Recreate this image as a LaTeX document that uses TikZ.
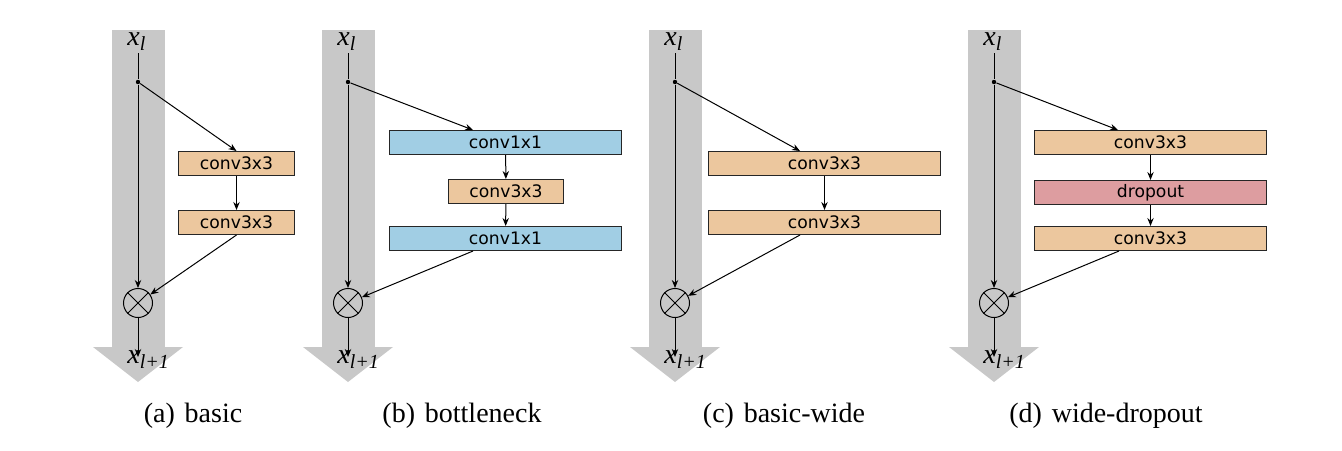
\documentclass[tikz,border=0pt]{standalone}
\usepackage{fontspec}
\setmainfont{Liberation Serif}
\newfontfamily\lblfont{DejaVu Sans}
\usetikzlibrary{arrows.meta,calc}
\definecolor{bandgray}{RGB}{200,200,200}
\definecolor{convor}{RGB}{236,199,158}
\definecolor{convbl}{RGB}{161,206,228}
\definecolor{droprd}{RGB}{221,157,160}
\newcommand{\resband}[1]{%
  \fill[bandgray] ({#1-26.5},30) rectangle ({#1+26.5},347);
  \fill[bandgray] ({#1-45},347) -- ({#1+45},347) -- (#1,382) -- cycle;}
\newcommand{\subtxt}[1]{\raisebox{-0.45ex}{\fontsize{10}{11}\selectfont\itshape #1}}
\newcommand{\xin}{{\itshape x}\subtxt{l}}
\newcommand{\xout}{{\itshape x}\subtxt{l+1}}
\begin{document}
\begin{tikzpicture}[x=0.5pt,y=-0.5pt,
  blk/.style={draw=black!85, line width=0.5pt, inner sep=0pt, minimum height=12pt,
    anchor=north west, font=\lblfont\fontsize{8.6}{10}\selectfont},
  orb/.style={blk, fill=convor},
  blb/.style={blk, fill=convbl},
  rdb/.style={blk, fill=droprd},
  arr/.style={-{Stealth[length=4pt,width=3.2pt]}, line width=0.5pt},
  ln/.style={line width=0.5pt},
  dotn/.style={circle, fill=black, inner sep=0pt, minimum size=2.2pt},
  sumn/.style={circle, draw, line width=0.5pt, minimum size=14.5pt, inner sep=0pt},
  xlab/.style={anchor=base west, inner sep=0pt, font=\fontsize{14}{15}\selectfont},
  captxt/.style={anchor=base, inner sep=0pt, font=\fontsize{14}{16}\selectfont}]
\useasboundingbox (0,0) rectangle (1342,450);

% ---------- (a) basic ----------
\resband{138}
\node[xlab] (a-in) at (127,45) {\xin};
\node[dotn] (a-dot) at (138,82) {};
\node[sumn] (a-sum) at (138,303) {};
\node[orb, minimum width=58pt] (a-c1) at (178,151) {conv3x3};
\node[orb, minimum width=58pt] (a-c2) at (178,210) {conv3x3};
\coordinate (a-end) at (138,357);
\node[xlab] (a-out) at (127,363) {\xout};
\draw[ln] (138,53) -- (a-dot);
\draw[arr] (a-dot) -- (a-sum);
\draw[arr] (a-dot) -- (a-c1.north);
\draw[arr] (a-c1) -- (a-c2);
\draw[arr] (a-c2.south) -- (a-sum);
\draw[ln] (a-sum.north west) -- (a-sum.south east) (a-sum.north east) -- (a-sum.south west);
\draw[arr] (a-sum) -- (a-end);

% ---------- (b) bottleneck ----------
\resband{348}
\node[xlab] (b-in) at (337,45) {\xin};
\node[dotn] (b-dot) at (348,82) {};
\node[sumn] (b-sum) at (348,303) {};
\node[blb, minimum width=116pt] (b-c1) at (389,130) {conv1x1};
\node[orb, minimum width=57.5pt] (b-c2) at (448,179) {conv3x3};
\node[blb, minimum width=116pt] (b-c3) at (389,226) {conv1x1};
\coordinate (b-end) at (348,357);
\node[xlab] (b-out) at (337,363) {\xout};
\draw[ln] (348,53) -- (b-dot);
\draw[arr] (b-dot) -- (b-sum);
\draw[arr] (b-dot) -- ($(b-c1.north west)+(84,0)$);
\draw[arr] (b-c1) -- (b-c2);
\draw[arr] (b-c2) -- (b-c3);
\draw[arr] ($(b-c3.south west)+(84,0)$) -- (b-sum);
\draw[ln] (b-sum.north west) -- (b-sum.south east) (b-sum.north east) -- (b-sum.south west);
\draw[arr] (b-sum) -- (b-end);

% ---------- (c) basic-wide ----------
\resband{675}
\node[xlab] (c-in) at (664,45) {\xin};
\node[dotn] (c-dot) at (675,82) {};
\node[sumn] (c-sum) at (675,303) {};
\node[orb, minimum width=116pt] (c-c1) at (708,151) {conv3x3};
\node[orb, minimum width=116pt] (c-c2) at (708,210) {conv3x3};
\coordinate (c-end) at (675,357);
\node[xlab] (c-out) at (664,363) {\xout};
\draw[ln] (675,53) -- (c-dot);
\draw[arr] (c-dot) -- (c-sum);
\draw[arr] (c-dot) -- ($(c-c1.north west)+(92,0)$);
\draw[arr] (c-c1) -- (c-c2);
\draw[arr] ($(c-c2.south west)+(92,0)$) -- (c-sum);
\draw[ln] (c-sum.north west) -- (c-sum.south east) (c-sum.north east) -- (c-sum.south west);
\draw[arr] (c-sum) -- (c-end);

% ---------- (d) wide-dropout ----------
\resband{994}
\node[xlab] (d-in) at (983,45) {\xin};
\node[dotn] (d-dot) at (994,82) {};
\node[sumn] (d-sum) at (994,303) {};
\node[orb, minimum width=116pt] (d-c1) at (1034,130) {conv3x3};
\node[rdb, minimum width=116pt] (d-c2) at (1034,180) {dropout};
\node[orb, minimum width=116pt] (d-c3) at (1034,226) {conv3x3};
\coordinate (d-end) at (994,357);
\node[xlab] (d-out) at (983,363) {\xout};
\draw[ln] (994,53) -- (d-dot);
\draw[arr] (d-dot) -- (d-sum);
\draw[arr] (d-dot) -- ($(d-c1.north west)+(84,0)$);
\draw[arr] (d-c1) -- (d-c2);
\draw[arr] (d-c2) -- (d-c3);
\draw[arr] ($(d-c3.south west)+(85,0)$) -- (d-sum);
\draw[ln] (d-sum.north west) -- (d-sum.south east) (d-sum.north east) -- (d-sum.south west);
\draw[arr] (d-sum) -- (d-end);

% ---------- captions ----------
\node[captxt] (cap-a) at (193,422) {(a)\hspace{0.35em}basic};
\node[captxt] (cap-b) at (462,422) {(b)\hspace{0.35em}bottleneck};
\node[captxt] (cap-c) at (784,422) {(c)\hspace{0.35em}basic-wide};
\node[captxt] (cap-d) at (1106,422) {(d)\hspace{0.35em}wide-dropout};
\end{tikzpicture}
\end{document}
